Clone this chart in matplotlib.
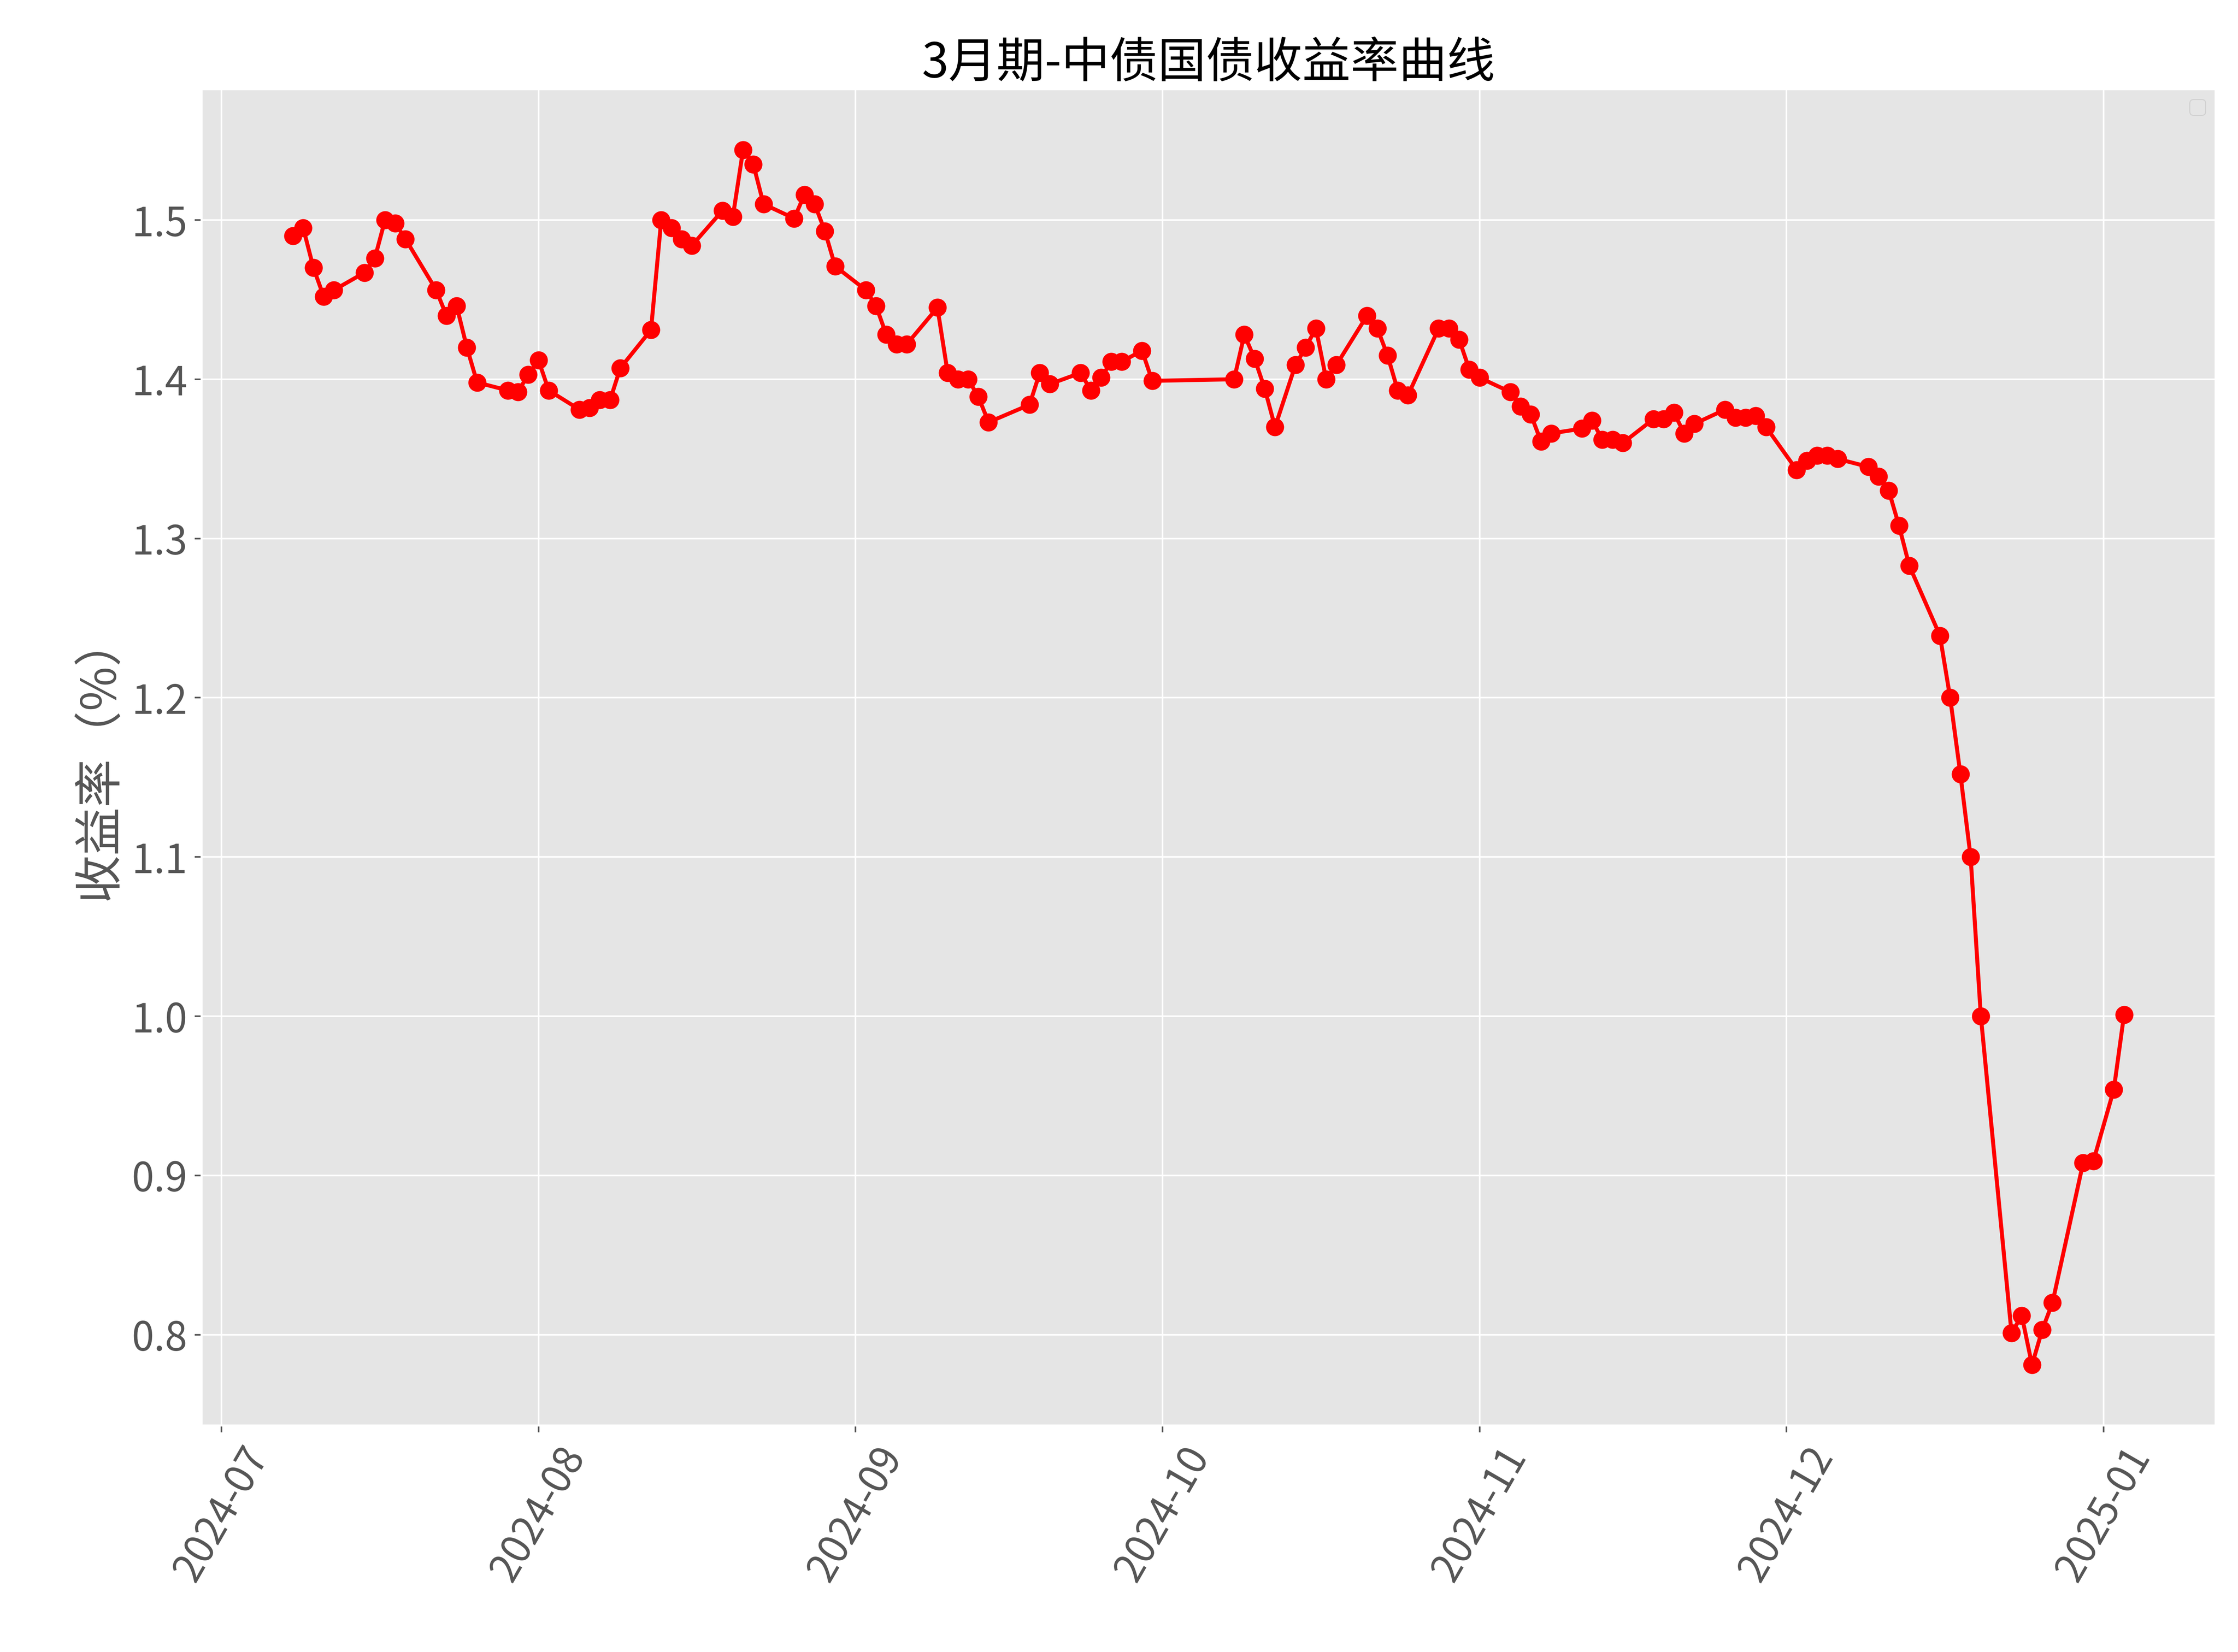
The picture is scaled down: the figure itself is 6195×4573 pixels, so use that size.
import matplotlib
matplotlib.use('Agg')
import matplotlib.pyplot as plt
import matplotlib.dates as mdates
import pandas as pd

dates = ['2024-07-08','2024-07-09','2024-07-10','2024-07-11','2024-07-12','2024-07-15','2024-07-16','2024-07-17','2024-07-18','2024-07-19',
         '2024-07-22','2024-07-23','2024-07-24','2024-07-25','2024-07-26','2024-07-29','2024-07-30','2024-07-31','2024-08-01','2024-08-02',
         '2024-08-05','2024-08-06','2024-08-07','2024-08-08','2024-08-09','2024-08-12','2024-08-13','2024-08-14','2024-08-15','2024-08-16',
         '2024-08-19','2024-08-20','2024-08-21','2024-08-22','2024-08-23','2024-08-26','2024-08-27','2024-08-28','2024-08-29','2024-08-30',
         '2024-09-02','2024-09-03','2024-09-04','2024-09-05','2024-09-06','2024-09-09','2024-09-10','2024-09-11','2024-09-12','2024-09-13',
         '2024-09-14','2024-09-18','2024-09-19','2024-09-20','2024-09-23','2024-09-24','2024-09-25','2024-09-26','2024-09-27','2024-09-29',
         '2024-09-30','2024-10-08','2024-10-09','2024-10-10','2024-10-11','2024-10-12','2024-10-14','2024-10-15','2024-10-16','2024-10-17',
         '2024-10-18','2024-10-21','2024-10-22','2024-10-23','2024-10-24','2024-10-25','2024-10-28','2024-10-29','2024-10-30','2024-10-31',
         '2024-11-01','2024-11-04','2024-11-05','2024-11-06','2024-11-07','2024-11-08','2024-11-11','2024-11-12','2024-11-13','2024-11-14',
         '2024-11-15','2024-11-18','2024-11-19','2024-11-20','2024-11-21','2024-11-22','2024-11-25','2024-11-26','2024-11-27','2024-11-28',
         '2024-11-29','2024-12-02','2024-12-03','2024-12-04','2024-12-05','2024-12-06','2024-12-09','2024-12-10','2024-12-11','2024-12-12',
         '2024-12-13','2024-12-16','2024-12-17','2024-12-18','2024-12-19','2024-12-20','2024-12-23','2024-12-24','2024-12-25','2024-12-26',
         '2024-12-27','2024-12-30','2024-12-31','2025-01-02','2025-01-03']
yields = [1.490,1.495,1.470,1.452,1.456,1.467,1.476,1.500,1.498,1.488,
          1.456,1.440,1.446,1.420,1.398,1.393,1.392,1.403,1.412,1.393,
          1.381,1.382,1.387,1.387,1.407,1.431,1.500,1.495,1.488,1.484,
          1.506,1.502,1.544,1.535,1.510,1.501,1.516,1.510,1.493,1.471,
          1.456,1.446,1.428,1.422,1.422,1.445,1.404,1.400,1.400,1.389,
          1.373,1.384,1.404,1.397,1.404,1.393,1.401,1.411,1.411,1.418,
          1.399,1.400,1.428,1.413,1.394,1.370,1.409,1.420,1.432,1.400,
          1.409,1.440,1.432,1.415,1.393,1.390,1.432,1.432,1.425,1.406,
          1.401,1.392,1.383,1.378,1.361,1.366,1.369,1.374,1.362,1.362,
          1.360,1.375,1.375,1.379,1.366,1.372,1.381,1.376,1.376,1.377,
          1.370,1.343,1.349,1.352,1.352,1.350,1.345,1.339,1.330,1.308,
          1.283,1.239,1.200,1.152,1.100,1.000,0.801,0.812,0.781,0.803,
          0.820,0.908,0.909,0.954,1.001]

plt.style.use('ggplot')
plt.rcParams['font.family'] = ['Noto Sans CJK SC', 'DejaVu Sans']
plt.rcParams['axes.unicode_minus'] = False

fig, ax = plt.subplots(figsize=(15.4875, 11.4325), dpi=400)
fig.subplots_adjust(left=0.09, right=0.99, top=0.946, bottom=0.137)
ax.plot(pd.to_datetime(dates), yields, color='red', marker='o', markersize=8, linewidth=2)
ax.set_title('3月期-中债国债收益率曲线', fontsize=24, color='black')
ax.set_ylabel('收益率（%）', fontsize=24)
ax.xaxis.set_major_locator(mdates.MonthLocator())
ax.xaxis.set_major_formatter(mdates.DateFormatter('%Y-%m'))
ax.tick_params(axis='both', labelsize=20)
plt.setp(ax.get_xticklabels(), rotation=60)
ax.legend()
fig.savefig('out.png')
